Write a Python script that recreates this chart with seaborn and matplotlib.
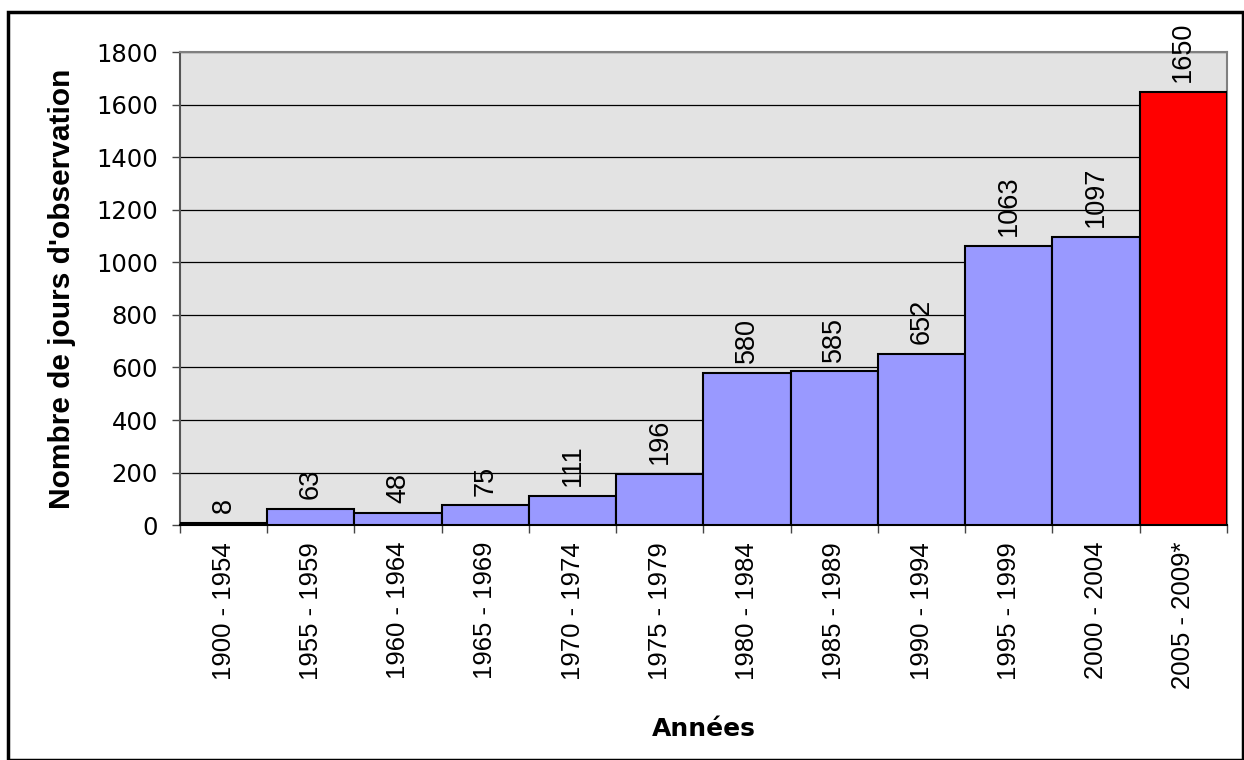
import matplotlib
matplotlib.use("Agg")
import matplotlib.pyplot as plt
import seaborn as sns
import pandas as pd
from matplotlib.patches import Rectangle

# Data
periods = ['1900 - 1954', '1955 - 1959', '1960 - 1964', '1965 - 1969', '1970 - 1974',
           '1975 - 1979', '1980 - 1984', '1985 - 1989', '1990 - 1994', '1995 - 1999',
           '2000 - 2004', '2005 - 2009*']
days = [8, 63, 48, 75, 111, 196, 580, 585, 652, 1063, 1097, 1650]
bar_colors = ['#9999FF'] * 11 + ['#FF0000']

df = pd.DataFrame({'periode': periods, 'jours': days})

sns.set_style('white')
plt.rcParams['font.family'] = ['DejaVu Sans']
plt.rcParams['text.color'] = 'black'
plt.rcParams['xtick.color'] = 'black'
plt.rcParams['ytick.color'] = 'black'
plt.rcParams['axes.labelcolor'] = 'black'

fig = plt.figure(figsize=(12.44, 7.6), dpi=100)
ax = fig.add_axes([0.1447, 0.309, 0.8416, 0.6224])
ax.set_facecolor('#e3e3e3')

sns.barplot(data=df, x='periode', y='jours', hue='periode', palette=bar_colors,
            saturation=1, width=1.0, edgecolor='black', linewidth=1.5,
            legend=False, ax=ax, zorder=3)

ax.set_xlim(-0.5, len(periods) - 0.5)
ax.set_ylim(0, 1800)
ax.set_yticks(range(0, 1801, 200))
ax.yaxis.grid(True, color='black', linewidth=0.9, zorder=1)
ax.set_axisbelow(True)

# value labels
for cont in ax.containers:
    ax.bar_label(cont, rotation=90, padding=7, fontsize=19.5,
                 family='Liberation Sans', clip_on=False)

# ticks: labels at centers, tick marks at category edges
ax.set_xticks(range(len(periods)), periods, rotation=90, fontsize=18.5,
              fontfamily='Liberation Sans')
ax.tick_params(axis='x', which='major', length=0, pad=12)
ax.set_xticks([i - 0.5 for i in range(len(periods) + 1)], minor=True)
ax.tick_params(axis='x', which='minor', length=6, width=1, color='#444444', direction='out')
ax.tick_params(axis='y', length=6, width=1, color='#444444', direction='out',
               labelsize=17.5, pad=10)
ax.xaxis.set_ticks_position('bottom')
ax.yaxis.set_ticks_position('left')

for s in ax.spines.values():
    s.set_color('#808080')
    s.set_linewidth(1.5)
ax.spines['bottom'].set_color('black')
ax.spines['left'].set_color('#555555')

ax.set_xlabel('Années', fontsize=18, fontweight='bold', labelpad=20)
ax.set_ylabel("Nombre de jours d'observation", fontsize=21.5, fontweight='bold',
              family='Liberation Sans', labelpad=14)

# outer frame
fig.patches.append(Rectangle((8 / 1244, 0), 1 - 9 / 1244, 1 - 12 / 760,
                             transform=fig.transFigure, fill=False,
                             edgecolor='black', linewidth=2.5))

fig.savefig('out.png', dpi=100)
